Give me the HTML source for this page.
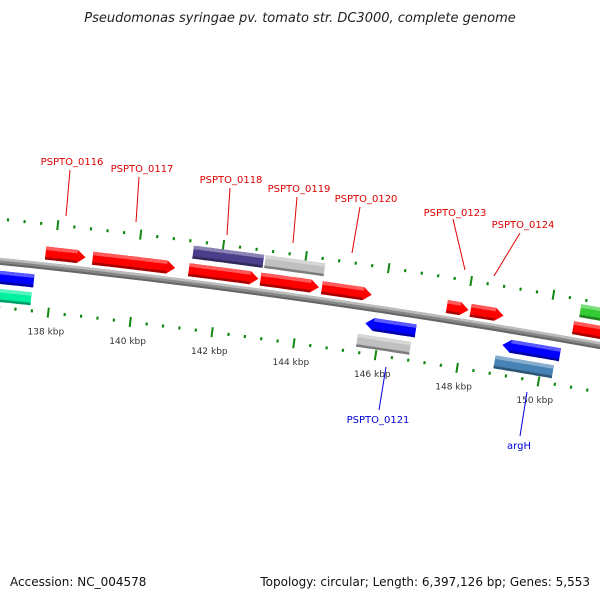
<!DOCTYPE html>
<html><head><meta charset="utf-8"><style>
body{margin:0;background:#fff}
svg{display:block;font-family:"DejaVu Sans","Liberation Sans",sans-serif}
</style></head><body>
<svg id="map" width="600" height="600" viewBox="0 0 600 600">
<text x="300" y="22" text-anchor="middle" font-size="13" font-style="italic" fill="#222">Pseudomonas syringae pv. tomato str. DC3000, complete genome</text>
<text x="10" y="586" font-size="12" fill="#111">Accession: NC_004578</text>
<text x="590" y="586" font-size="12" fill="#111" text-anchor="end">Topology: circular; Length: 6,397,126 bp; Genes: 5,553</text>
</svg>
<script>
// data (kbp)
const geneStart=[137.78,138.92,141.25,141.30,142.99,143.04,144.48,147.52,148.10,150.60,150.70,136.50,136.50,145.64,145.50,148.99,148.87];
const geneEnd=  [138.75,140.92,142.94,143.00,144.41,144.48,145.69,148.05,148.90,152.50,152.50,137.57,137.55,146.87,146.80,150.40,150.30];
const geneRow=  [1,1,1,2,1,2,1,1,1,1,2,-1,-2,-1,-2,-1,-2];
const geneDir=  [1,1,1,0,1,0,1,1,1,1,0,-1,0,-1,0,-1,0];
const geneColor=["#ff0000","#ff0000","#ff0000","#4b3f8c","#ff0000","#c0c0c0","#ff0000","#ff0000","#ff0000","#ff0000","#33cc33","#0000ff","#00f0a0","#0000ff","#c0c0c0","#0000ff","#4682b4"];
const tickKbp=[138,140,142,144,146,148,150];
const tickLabels=["138 kbp","140 kbp","142 kbp","144 kbp","146 kbp","148 kbp","150 kbp"];
const labelText=["PSPTO_0116","PSPTO_0117","PSPTO_0118","PSPTO_0119","PSPTO_0120","PSPTO_0123","PSPTO_0124","PSPTO_0121","argH"];
const labelColor=["#e00000","#e00000","#e00000","#e00000","#e00000","#e00000","#e00000","#0000dd","#0000dd"];
const labelPos=[[72,165],[142,172],[231,183],[299,192],[366,202],[455,216],[523,228],[378,423],[519,449]];
const labelLine=[[70,170,66,216],[139,177,136,222],[230,188,227,235],[297,197,293,243],[360,207,352,253],[453,219,465,270],[520,233,494,276],[386,367,379,410],[527,392,520,436]];

const NS="http://www.w3.org/2000/svg";
const svg=document.getElementById('map');
const CX=-812,CY=8220,R=8000,K0=144,S=41.5;
const PHI0=Math.atan2(300-CY,300-CX);
function pt(k,off){const p=PHI0+(k-K0)*S/R;const r=R+off;return [CX+r*Math.cos(p),CY+r*Math.sin(p)];}
function el(tag,attrs){const e=document.createElementNS(NS,tag);for(const a in attrs)e.setAttribute(a,attrs[a]);svg.appendChild(e);return e;}
function arcPts(k1,k2,off){const n=12,a=[];for(let i=0;i<=n;i++){a.push(pt(k1+(k2-k1)*i/n,off));}return a;}
function shade(hex,f){let n=parseInt(hex.slice(1),16);let r=n>>16,g=(n>>8)&255,b=n&255;
 if(f>0){r+= (255-r)*f;g+=(255-g)*f;b+=(255-b)*f;}else{r*=1+f;g*=1+f;b*=1+f;}
 return "rgb("+Math.round(r)+","+Math.round(g)+","+Math.round(b)+")";}
function poly(pts,fill,name){const e=el('polygon',{points:pts.map(p=>p[0].toFixed(1)+","+p[1].toFixed(1)).join(" "),fill:fill});
 
 return e;}
function genePoly(k1,k2,o1,o2,dir,ah){ // o1 inner, o2 outer
 let pts=[];
 if(dir===1){pts=arcPts(k1,k2-ah,o2).concat([pt(k2,(o1+o2)/2)]).concat(arcPts(k1,k2-ah,o1).reverse());}
 else if(dir===-1){pts=arcPts(k1+ah,k2,o2).concat(arcPts(k1+ah,k2,o1).reverse()).concat([pt(k1,(o1+o2)/2)]);}
 else{pts=arcPts(k1,k2,o2).concat(arcPts(k1,k2,o1).reverse());}
 return pts;}

// backbone
poly(arcPts(136,153,3.5).concat(arcPts(136,153,-3.5).reverse()),"#888","backbone");
poly(arcPts(136,153,3.5).concat(arcPts(136,153,1).reverse()),"#bbb","backbone-highlight");
poly(arcPts(136,153,-1.5).concat(arcPts(136,153,-3.5).reverse()),"#666","backbone-shadow");

// tick rings
for(let k=136.4;k<=153;k+=0.4){
 const kk=Math.round(k*10)/10;const major=Math.abs(kk/2-Math.round(kk/2))<0.01;
 [42,-46].forEach(off=>{const L=major?5:1.5;const a=pt(kk,off-L),b=pt(kk,off+L);
  const t=el('line',{x1:a[0],y1:a[1],x2:b[0],y2:b[1],stroke:"#118811","stroke-width":major?2:2.2});
  
  });
}
tickKbp.forEach((k,i)=>{const p=pt(k,-68);const t=el('text',{x:p[0],y:p[1],"text-anchor":"middle","font-size":"9",fill:"#333"});
 t.textContent=tickLabels[i];
 
 });

// genes
const H=13;
geneStart.forEach((k1,i)=>{const k2=geneEnd[i];const row=geneRow[i];
 const c=row>0?(row===1?13:31):(row===-1?-16:-34);
 const o1=c-H/2,o2=c+H/2,dir=geneDir[i],ah=0.2,col=geneColor[i];
 const g=poly(genePoly(k1,k2,o1,o2,dir,ah),col,'gene-'+i);
 
 const hk1=dir===-1?k1+ah:k1,hk2=dir===1?k2-ah:k2;
 poly(arcPts(hk1,hk2,o2).concat(arcPts(hk1,hk2,o2-3.5).reverse()),shade(col,0.35),'gene-highlight');
 poly(arcPts(hk1,hk2,o1+2.5).concat(arcPts(hk1,hk2,o1).reverse()),shade(col,-0.35),'gene-shadow');
});

// labels
labelText.forEach((txt,i)=>{const l=labelLine[i];
 const ln=el('line',{x1:l[0],y1:l[1],x2:l[2],y2:l[3],stroke:labelColor[i],"stroke-width":1});
 
 
 const t=el('text',{x:labelPos[i][0],y:labelPos[i][1],"text-anchor":"middle","font-size":"10",fill:labelColor[i]});
 t.textContent=txt;
 
 });
</script>
</body></html>
